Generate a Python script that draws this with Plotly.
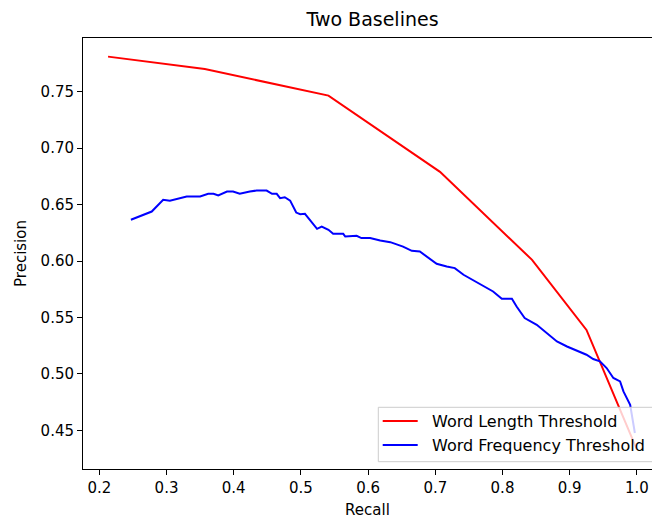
import plotly.graph_objects as go

# ---- data ----
length_recall = [0.213, 0.357, 0.541, 0.707, 0.844, 0.925, 1.0]
length_precision = [0.781, 0.770, 0.7465, 0.679, 0.601, 0.539, 0.433]

freq_recall = [0.247, 0.278, 0.295, 0.305, 0.330, 0.350, 0.362, 0.370, 0.377, 0.390,
               0.399, 0.409, 0.424, 0.434, 0.449, 0.457, 0.464, 0.469, 0.476, 0.484,
               0.493, 0.499, 0.506, 0.524, 0.531, 0.541, 0.548, 0.563, 0.566, 0.583,
               0.590, 0.603, 0.618, 0.633, 0.652, 0.665, 0.677, 0.690, 0.702, 0.717,
               0.729, 0.742, 0.757, 0.774, 0.786, 0.799, 0.814, 0.821, 0.833, 0.851,
               0.866, 0.881, 0.896, 0.910, 0.925, 0.935, 0.945, 0.955, 0.965, 0.975,
               0.980, 0.990, 0.997]
freq_precision = [0.6365, 0.6438, 0.6542, 0.6533, 0.6571, 0.6571, 0.6595, 0.6595, 0.658, 0.6615,
                  0.6615, 0.6595, 0.6615, 0.6624, 0.6624, 0.6595, 0.6595, 0.6557, 0.6565, 0.6535,
                  0.6429, 0.6415, 0.6418, 0.6285, 0.6305, 0.6276, 0.6241, 0.6241, 0.6217, 0.6223,
                  0.6203, 0.6203, 0.6181, 0.6167, 0.6128, 0.609, 0.6084, 0.6026, 0.5975, 0.5951,
                  0.5937, 0.5878, 0.5827, 0.5769, 0.573, 0.5665, 0.5665, 0.5597, 0.5495, 0.5435,
                  0.5362, 0.5288, 0.5243, 0.5208, 0.517, 0.5132, 0.5111, 0.5052, 0.4964, 0.4934,
                  0.4845, 0.4727, 0.4477]

series_names = ["Word Length Threshold", "Word Frequency Threshold"]
x_ticks = [0.2, 0.3, 0.4, 0.5, 0.6, 0.7, 0.8, 0.9, 1.0]
x_ticklabels = ["0.2", "0.3", "0.4", "0.5", "0.6", "0.7", "0.8", "0.9", "1.0"]
y_ticks = [0.45, 0.50, 0.55, 0.60, 0.65, 0.70, 0.75]
y_ticklabels = ["0.45", "0.50", "0.55", "0.60", "0.65", "0.70", "0.75"]

FONT = "DejaVu Sans"
W, H = 652, 519
ML, MR, MT, MB = 83, 0, 38, 50
PW, PH = W - ML - MR, H - MT - MB


def px(xp):
    return (xp - ML) / PW


def py(yp):
    return (H - MB - yp) / PH


fig = go.Figure()
fig.add_trace(go.Scatter(x=length_recall, y=length_precision, mode="lines",
                         line=dict(color="#ff0000", width=2), name=series_names[0],
                         showlegend=False))
fig.add_trace(go.Scatter(x=freq_recall, y=freq_precision, mode="lines",
                         line=dict(color="#0000ff", width=2), name=series_names[1],
                         showlegend=False))

axis_common = dict(showgrid=False, zeroline=False, showline=True, linecolor="black",
                   linewidth=1, ticks="outside", ticklen=5, tickwidth=1, tickcolor="black",
                   tickfont=dict(family=FONT, size=15, color="black"), automargin=False)

fig.update_xaxes(range=[0.1757, 1.0225], tickvals=x_ticks, ticktext=x_ticklabels,
                 mirror=True, title=dict(text="Recall", font=dict(family=FONT, size=15, color="black"),
                                         standoff=9), **axis_common)
fig.update_yaxes(range=[0.4158, 0.7975], tickvals=y_ticks, ticktext=y_ticklabels,
                 mirror=False, title=dict(text="Precision", font=dict(family=FONT, size=15, color="black"),
                                          standoff=10), **axis_common)

# legend (matplotlib-style box, lower right, cut by the figure edge)
shapes = [
    dict(type="rect", xref="paper", yref="paper", x0=px(378.3), x1=1.02, y0=py(461.7), y1=py(407.3),
         fillcolor="rgba(255,255,255,0.8)", line=dict(color="#cccccc", width=1), layer="above"),
    dict(type="line", xref="paper", yref="paper", x0=px(382.7), x1=px(417.7), y0=py(421), y1=py(421),
         line=dict(color="#ff0000", width=2), layer="above"),
    dict(type="line", xref="paper", yref="paper", x0=px(382.7), x1=px(417.7), y0=py(445), y1=py(445),
         line=dict(color="#0000ff", width=2), layer="above"),
]
annotations = [
    dict(text=series_names[0], xref="paper", yref="paper", x=px(430), y=py(421),
         xanchor="left", yanchor="middle", showarrow=False,
         font=dict(family=FONT, size=16, color="black")),
    dict(text=series_names[1], xref="paper", yref="paper", x=px(430), y=py(445),
         xanchor="left", yanchor="middle", showarrow=False,
         font=dict(family=FONT, size=16, color="black")),
]

fig.update_layout(
    width=W, height=H, autosize=False,
    margin=dict(l=ML, r=MR, t=MT, b=MB, pad=0),
    paper_bgcolor="white", plot_bgcolor="white",
    title=dict(text="Two Baselines", x=px(372.5), xanchor="center", xref="paper",
               y=1 - 19 / H, yref="container", yanchor="middle",
               font=dict(family=FONT, size=19, color="black")),
    shapes=shapes, annotations=annotations,
    showlegend=False,
    hovermode=False,
)

fig.write_html(
    "out.html",
    config={"displayModeBar": False, "staticPlot": True},
    post_script="document.body.style.margin='0';document.body.style.padding='0';"
                "document.body.style.overflow='hidden';",
)
